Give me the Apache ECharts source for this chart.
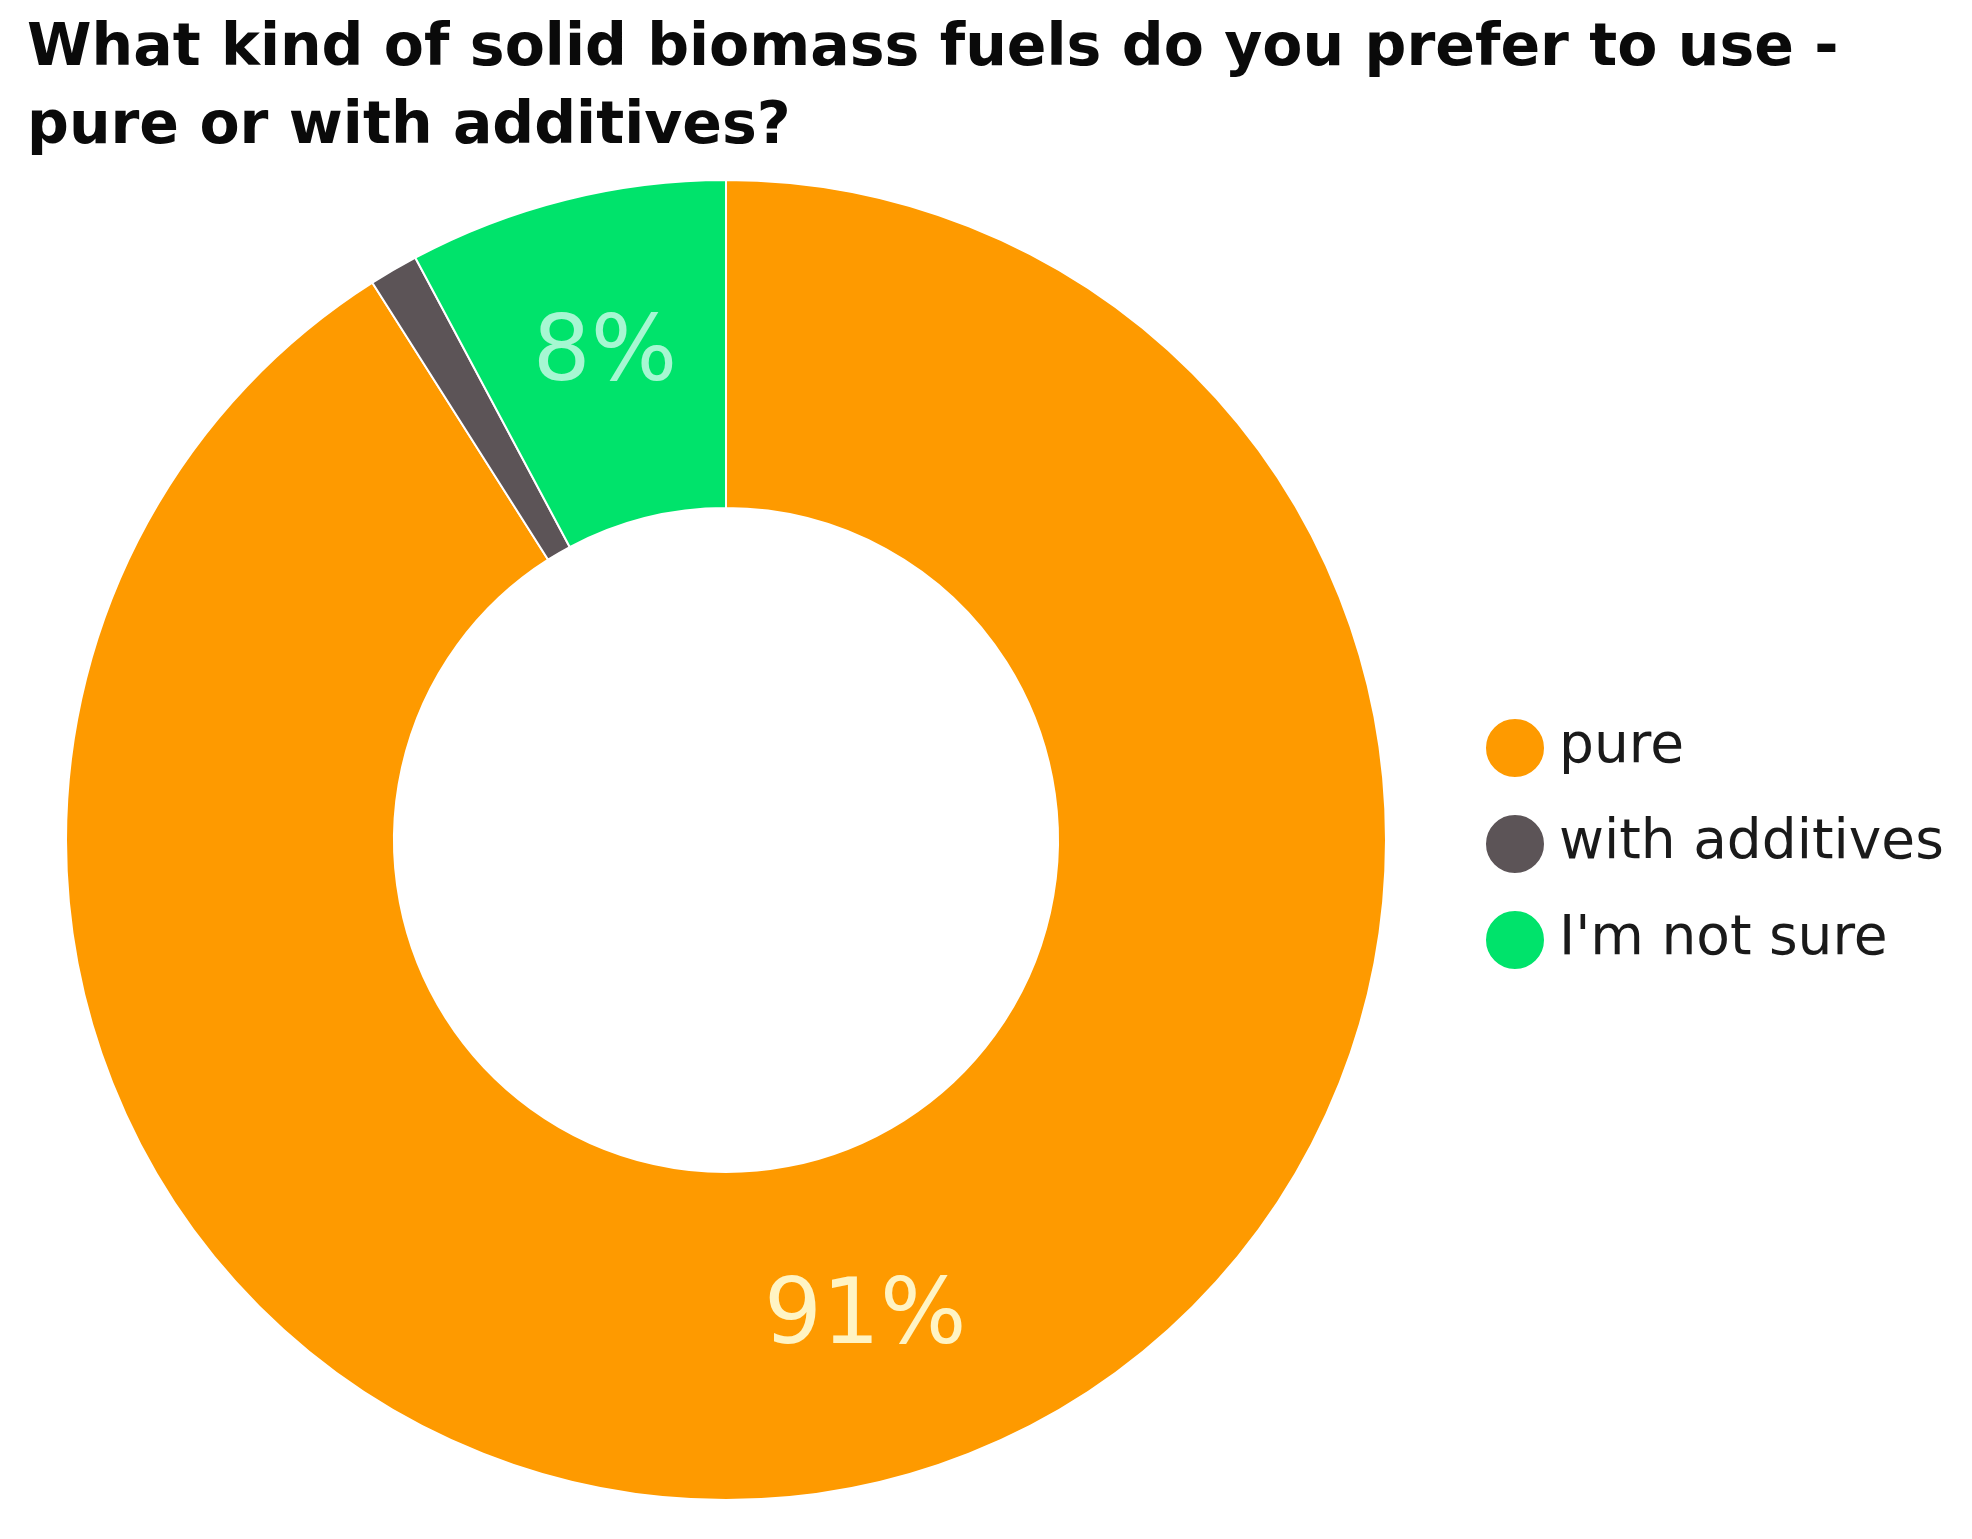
<!DOCTYPE html>
<html>
<head>
<meta charset="utf-8">
<script src="https://cdn.jsdelivr.net/npm/echarts@6/dist/echarts.min.js"></script>
<style>
  html, body {margin:0; padding:0; background:#fff;}
  #chart {width:1972px; height:1539px;}
</style>
</head>
<body>
<div id="chart"></div>
<script>
const titleText = "What kind of solid biomass fuels do you prefer to use -\npure or with additives?";
const categories = ["pure", "with additives", "I'm not sure"];
const values = [91, 1.2, 7.8];
const labels = ["91%", "", "8%"];
const colors = ["#FE9A00", "#5C5457", "#00E36B"];
const labelColors = ["#FFF4C4", "#ffffff", "#A6F7D2"];

let chart = echarts.init(document.getElementById('chart'));

let data = categories.map((c, i) => ({
    name: c,
    value: values[i],
    itemStyle: {color: colors[i]},
    label: {show: labels[i] !== "", color: labelColors[i], formatter: labels[i]}
}));

let options = {
    backgroundColor: '#fff',
    animation: false,
    title: {
        text: titleText,
        left: 22,
        top: 6,
        textStyle: {
            fontFamily: 'DejaVu Sans',
            fontWeight: 'bold',
            fontSize: 58.5,
            lineHeight: 78,
            color: '#0a0a0a'
        }
    },
    legend: {
        orient: 'vertical',
        left: 1479,
        top: 712,
        icon: 'circle',
        itemWidth: 60,
        itemHeight: 60,
        itemGap: 34,
        textStyle: {
            fontFamily: 'DejaVu Sans',
            fontSize: 55,
            color: '#1a1a1a',
            padding: [0, 0, 0, 9]
        },
        data: categories
    },
    series: [{
        type: 'pie',
        center: [726, 840],
        radius: [332, 660],
        startAngle: 90,
        clockwise: true,
        silent: true,
        itemStyle: {borderColor: '#fff', borderWidth: 2},
        label: {
            position: 'inside',
            fontFamily: 'DejaVu Sans',
            fontSize: 91
        },
        labelLine: {show: false},
        data: data
    }]
};
chart.setOption(options);
</script>
</body>
</html>
